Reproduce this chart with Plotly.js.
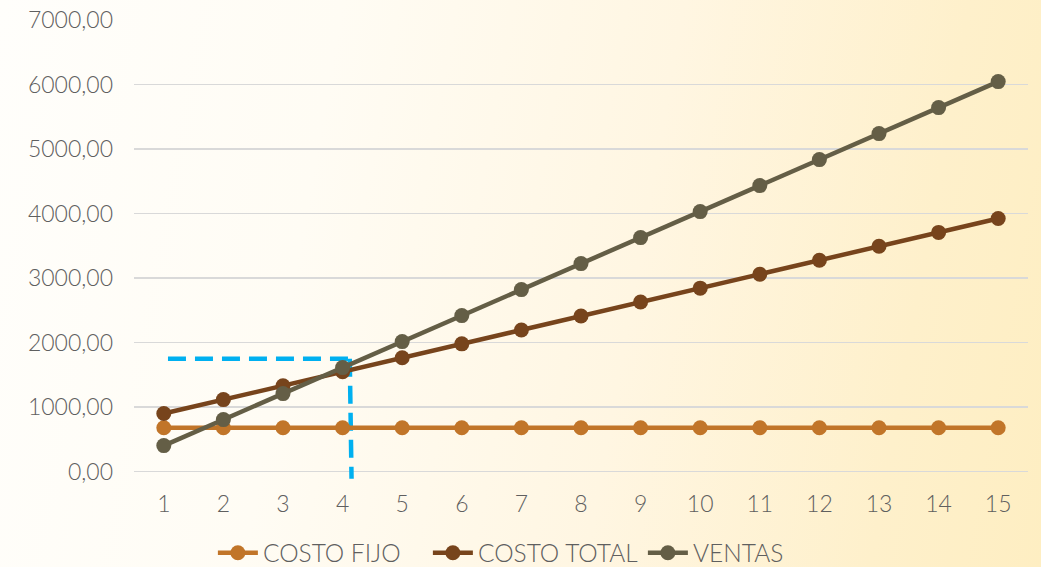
<!DOCTYPE html>
<html>
<head>
<meta charset="utf-8">
<script src="https://cdn.plot.ly/plotly-3.0.1.min.js"></script>
<style>
html,body{margin:0;padding:0;width:1041px;height:567px;overflow:hidden;}
body{background:linear-gradient(100deg,#fffefb 0%,#fffcf4 30%,#fff6e2 60%,#fef0cb 85%,#feeec2 100%);}
#chart{width:1041px;height:567px;}
</style>
</head>
<body>
<div id="chart"></div>
<script>
var periods = [1,2,3,4,5,6,7,8,9,10,11,12,13,14,15];
var costoFijo = [680,680,680,680,680,680,680,680,680,680,680,680,680,680,680];
var costoTotal = [900,1116,1332,1548,1764,1980,2196,2412,2628,2844,3060,3276,3492,3708,3924];
var ventas = [403,806,1209,1612,2015,2418,2821,3224,3627,4030,4433,4836,5239,5642,6045];
var yTicks = [0,1000,2000,3000,4000,5000,6000,7000];
var yTickLabels = ["0,00","1000,00","2000,00","3000,00","4000,00","5000,00","6000,00","7000,00"];
var seriesNames = ["COSTO FIJO","COSTO TOTAL","VENTAS"];
var guideHX = [1.07, 4.12];
var guideHY = [1750, 1750];
var guideVX = [4.12, 4.15];
var guideVY = [1750, -110];

var colors = ["#C17529","#77441C","#645E46"];
function series(y, i){
  return {x: periods, y: y, name: seriesNames[i], type:'scatter', mode:'lines+markers',
    line:{color:colors[i], width:4.5}, marker:{color:colors[i], size:15}, cliponaxis:false};
}
var guideStyle = {color:'#00B0F0', width:4.5, dash:'18px,9px'};
var traces = [
  {x:guideHX, y:guideHY, mode:'lines', line:guideStyle, showlegend:false, hoverinfo:'skip'},
  {x:guideVX, y:guideVY, mode:'lines', line:guideStyle, showlegend:false, hoverinfo:'skip'},
  series(costoFijo,0), series(costoTotal,1), series(ventas,2)
];
var font = {family:'Lato, "Liberation Sans", sans-serif', color:'#5f5f5f', size:23, weight:300};
var layout = {
  width:1041, height:567,
  paper_bgcolor:'rgba(0,0,0,0)', plot_bgcolor:'rgba(0,0,0,0)',
  margin:{l:134, r:13, t:20, b:87, autoexpand:false},
  font: font,
  showlegend:true,
  legend:{orientation:'h', x:0.2045, xanchor:'left', xref:'container', yref:'container', y:0.025, yanchor:'middle',
    font:{family:font.family, color:'#5f5f5f', size:24.5, weight:300}, bgcolor:'rgba(0,0,0,0)', itemwidth:40,
    entrywidth:160, entrywidthmode:'pixels'},
  xaxis:{range:[0.5,15.5], tickvals:periods, ticktext:periods.map(String), showgrid:false,
    zeroline:false, showline:false, ticks:'', ticklabelstandoff:8, tickfont:font, fixedrange:true, automargin:false},
  yaxis:{range:[-130,7000], tickvals:yTicks, ticktext:yTickLabels, showgrid:true,
    gridcolor:'#D9D9D9', gridwidth:1.5, zeroline:false, showline:false, ticks:'',
    ticklabelstandoff:20, tickfont:font, fixedrange:true, automargin:false}
};
Plotly.newPlot('chart', traces, layout, {staticPlot:true, displayModeBar:false});
</script>
</body>
</html>
